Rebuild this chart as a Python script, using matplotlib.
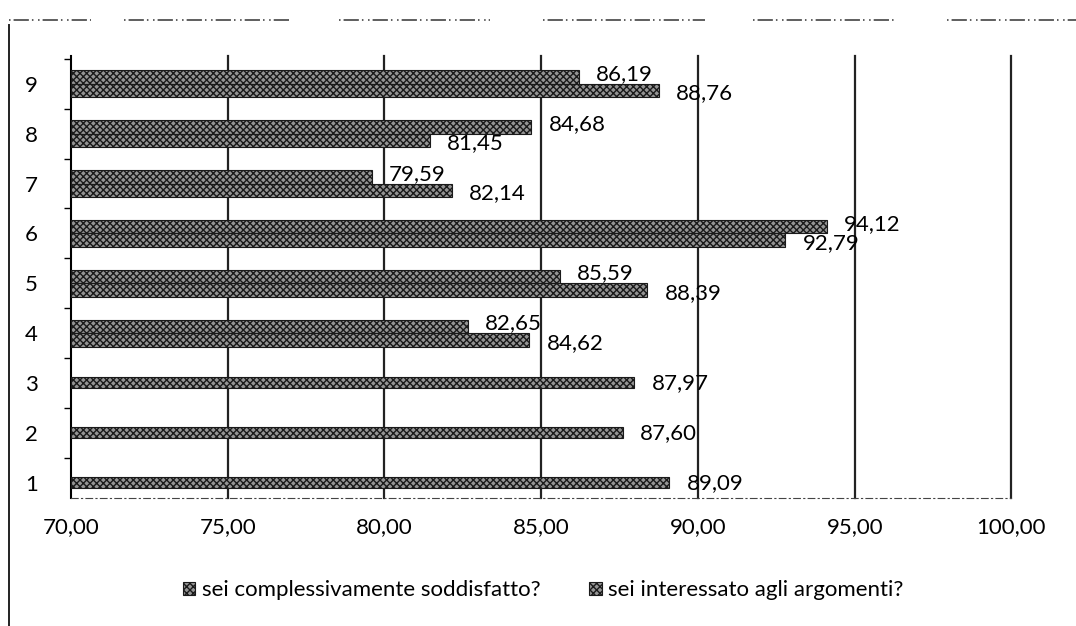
import numpy as np
import matplotlib.pyplot as plt
from matplotlib.lines import Line2D
from matplotlib.patches import Patch

plt.rcParams['font.family'] = ['Lato', 'DejaVu Sans']
plt.rcParams['hatch.linewidth'] = 1.0

# categorie 1..9
categorie = [1, 2, 3, 4, 5, 6, 7, 8, 9]
# serie doppie (categorie 4-9)
soddisfatto = [np.nan, np.nan, np.nan, 82.65, 85.59, 94.12, 79.59, 84.68, 86.19]
interessato = [np.nan, np.nan, np.nan, 84.62, 88.39, 92.79, 82.14, 81.45, 88.76]
# categorie 1-3 con una sola barra
singolo = [89.09, 87.60, 87.97, np.nan, np.nan, np.nan, np.nan, np.nan, np.nan]

etichette_x = ['70,00', '75,00', '80,00', '85,00', '90,00', '95,00', '100,00']
valori_x = [70, 75, 80, 85, 90, 95, 100]
legenda = ['sei complessivamente soddisfatto?', 'sei interessato agli argomenti?']

def fmt(v):
    return ('%.2f' % v).replace('.', ',')

fig = plt.figure(figsize=(10.76, 6.26), dpi=100)
ax = fig.add_axes([0.066, 0.205, 0.874, 0.705])

base = 70
h = 0.27
stile = dict(color='#959595', edgecolor='#1a1a1a', hatch='xxxxx', linewidth=0.8, zorder=3)
y = np.array(categorie, dtype=float)

s = np.array(soddisfatto)
i = np.array(interessato)
u = np.array(singolo)
m = ~np.isnan(s)
ax.barh(y[m] + h / 2, s[m] - base, height=h, left=base, **stile)
ax.barh(y[m] - h / 2, i[m] - base, height=h, left=base, **stile)
mu = ~np.isnan(u)
ax.barh(y[mu], u[mu] - base, height=0.22, left=base, **stile)

fs = 16
for yy, v in zip(y[m], s[m]):
    ax.text(v + 0.55, yy + h / 2 + 0.06, fmt(v), fontsize=fs, va='center', ha='left', zorder=4)
for yy, v in zip(y[m], i[m]):
    ax.text(v + 0.55, yy - h / 2 - 0.06, fmt(v), fontsize=fs, va='center', ha='left', zorder=4)
for yy, v in zip(y[mu], u[mu]):
    ax.text(v + 0.55, yy, fmt(v), fontsize=fs, va='center', ha='left', zorder=4)

ax.set_xlim(70, 100)
ax.set_ylim(0.7, 9.55)
ax.set_xticks(valori_x)
ax.set_xticklabels(etichette_x, fontsize=fs)
ax.set_yticks(categorie)
ax.set_yticklabels([str(c) for c in categorie], fontsize=fs)
ax.tick_params(axis='x', length=0, pad=14)
ax.tick_params(axis='y', length=0, pad=24)
ax.set_yticks(np.arange(1.5, 10, 1.0), minor=True)
ax.tick_params(axis='y', which='minor', length=5, width=1, direction='out')

for xv in valori_x[1:]:
    ax.axvline(xv, color='#222222', linewidth=1.6, zorder=2, clip_on=False)

for sp in ['top', 'right']:
    ax.spines[sp].set_visible(False)
ax.spines['left'].set_linewidth(1.5)
ax.spines['bottom'].set_linestyle((0, (6, 3, 1, 3)))
ax.spines['bottom'].set_color('#444444')

maniglie = [Patch(facecolor='#959595', edgecolor='#1a1a1a', hatch='xxxxx', linewidth=0.8),
            Patch(facecolor='#959595', edgecolor='#1a1a1a', hatch='xxxxx', linewidth=0.8)]
fig.legend(maniglie, legenda, loc='center', bbox_to_anchor=(0.505, 0.057), ncol=2,
           frameon=False, fontsize=16, handlelength=0.55, handleheight=0.55,
           handletextpad=0.3, columnspacing=2.2)

# cornice scansionata: tratti spezzati in alto e linea a sinistra
tratti = [(0.008, 0.085), (0.115, 0.27), (0.315, 0.455), (0.505, 0.655),
          (0.70, 0.835), (0.88, 1.0)]
for a, b in tratti:
    fig.add_artist(Line2D([a, b], [0.968, 0.968], color='#333333', linewidth=1.1,
                          linestyle=(0, (1, 2, 10, 2, 1, 3))))
fig.add_artist(Line2D([0.008, 0.008], [0.0, 0.96], color='#222222', linewidth=1.4))

fig.savefig('out.png', dpi=100, facecolor='white')
